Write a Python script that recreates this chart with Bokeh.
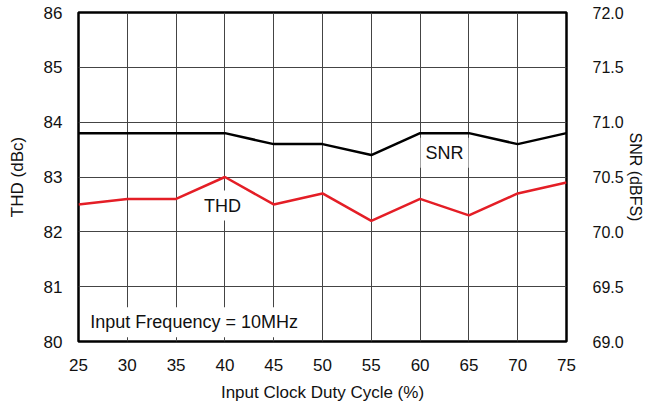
from bokeh.plotting import figure
from bokeh.models import Range1d, LinearAxis, FixedTicker, Label, NumeralTickFormatter, Title
from bokeh.embed import file_html
from bokeh.resources import INLINE

duty = [25, 30, 35, 40, 45, 50, 55, 60, 65, 70, 75]
thd = [82.5, 82.6, 82.6, 83.0, 82.5, 82.7, 82.2, 82.6, 82.3, 82.7, 82.9]
snr = [70.9, 70.9, 70.9, 70.9, 70.8, 70.8, 70.7, 70.9, 70.9, 70.8, 70.9]
x_ticks = [25, 30, 35, 40, 45, 50, 55, 60, 65, 70, 75]
thd_ticks = [80, 81, 82, 83, 84, 85, 86]
snr_ticks = [69.0, 69.5, 70.0, 70.5, 71.0, 71.5, 72.0]

FONT = "Liberation Sans"

p = figure(width=647, height=408, output_backend="svg", toolbar_location=None,
           x_range=Range1d(25, 75), y_range=Range1d(80, 86),
           min_border_left=78, min_border_right=81, min_border_top=12, min_border_bottom=67)
p.extra_y_ranges = {"snr": Range1d(69, 72)}

p.outline_line_color = "black"
p.outline_line_width = 2.5
p.background_fill_color = "white"
p.border_fill_color = "white"

for g in (p.xgrid, p.ygrid):
    g.grid_line_color = "#444444"
    g.grid_line_width = 1
p.xgrid.ticker = FixedTicker(ticks=x_ticks)
p.ygrid.ticker = FixedTicker(ticks=thd_ticks)

def style(ax, standoff, size="17px"):
    ax.axis_line_color = None
    ax.major_tick_line_color = None
    ax.minor_tick_line_color = None
    ax.major_tick_out = 0
    ax.major_tick_in = 0
    ax.major_label_text_font = FONT
    ax.major_label_text_font_size = size
    ax.major_label_text_color = "#111111"
    ax.axis_label_text_font = FONT
    ax.axis_label_text_font_size = "17px"
    ax.axis_label_text_font_style = "normal"
    ax.axis_label_text_color = "#111111"
    ax.major_label_standoff = standoff

xa = p.xaxis[0]
xa.ticker = FixedTicker(ticks=x_ticks)
xa.axis_label = "Input Clock Duty Cycle (%)"
style(xa, 17)
xa.axis_label_standoff = 9

ya = p.yaxis[0]
ya.ticker = FixedTicker(ticks=thd_ticks)
ya.axis_label = "THD (dBc)"
style(ya, 16)
ya.axis_label_standoff = 14

ra = LinearAxis(y_range_name="snr", ticker=FixedTicker(ticks=snr_ticks))
ra.formatter = NumeralTickFormatter(format="0.0")
style(ra, 26, "16px")
p.add_layout(ra, "right")

p.add_layout(Title(text="SNR (dBFS)", align="center", standoff=0, offset=0,
                   text_font=FONT, text_font_size="16px", text_font_style="normal",
                   text_color="#111111"), "right")

p.line(duty, snr, y_range_name="snr", line_color="black", line_width=2.5)
p.line(duty, thd, line_color="#e41e26", line_width=2.5)

for txt, x, y, align in [("SNR", 62.5, 83.44, "center"), ("THD", 39.75, 82.48, "center"),
                         ("Input Frequency = 10MHz", 25.7, 80.35, "left")]:
    p.add_layout(Label(x=x, y=y, text=txt, text_align=align, text_baseline="middle",
                       text_font=FONT, text_font_size="18px", text_color="#111111",
                       background_fill_color="white", padding=5))

open("out.html", "w").write(file_html(p, INLINE))
